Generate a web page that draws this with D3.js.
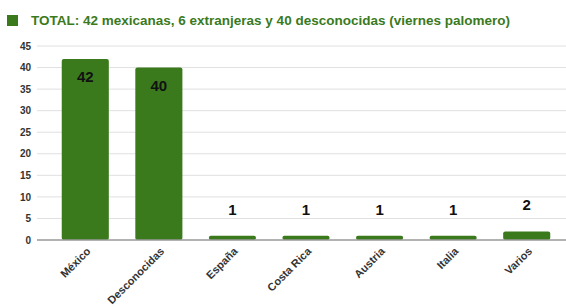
<!DOCTYPE html>
<html>
<head>
<meta charset="utf-8">
<script src="https://cdn.jsdelivr.net/npm/d3@7"></script>
<style>
  body { margin: 0; background: #fff; }
  svg { display: block; font-family: "Liberation Sans", Arial, sans-serif; }
</style>
</head>
<body>
<svg id="chart"></svg>
<script>
const categories = ["México", "Desconocidas", "España", "Costa Rica", "Austria", "Italia", "Varios"];
const values = [42, 40, 1, 1, 1, 1, 2];
const yTicks = [0, 5, 10, 15, 20, 25, 30, 35, 40, 45];
const title = "TOTAL: 42 mexicanas, 6 extranjeras y 40 desconocidas (viernes palomero)";

const width = 566, height = 307;
const green = "#3a7a1d";
const svg = d3.select("#chart").attr("width", width).attr("height", height);

const x = d3.scaleBand()
    .domain(categories)
    .range([48.5, 563.5])
    .paddingInner(0.36)
    .paddingOuter(0.18);
const y = d3.scaleLinear()
    .domain([0, 45])
    .range([240, 46]);

// legend / title
svg.append("rect")
    .attr("x", 7).attr("y", 15)
    .attr("width", 11).attr("height", 11)
    .attr("fill", green);
svg.append("text")
    .attr("x", 31).attr("y", 25)
    .attr("font-size", 13.5)
    .attr("font-weight", "bold")
    .attr("fill", green)
    .text(title);

// grid
svg.append("g")
    .selectAll("line")
    .data(yTicks.filter(d => d > 0))
    .enter()
    .append("line")
    .attr("x1", 37).attr("x2", width)
    .attr("y1", d => y(d)).attr("y2", d => y(d))
    .attr("stroke", "#e0e0e0")
    .attr("stroke-width", 1);

// y axis labels
const yAxis = svg.append("g")
    .attr("transform", "translate(31,0)")
    .call(d3.axisLeft(y).tickValues(yTicks).tickSize(0).tickPadding(0));
yAxis.select(".domain").remove();
yAxis.selectAll("text")
    .attr("font-size", 10)
    .attr("font-weight", "bold")
    .attr("fill", "#333")
    .attr("font-family", "Liberation Sans, Arial, sans-serif");

// bars
svg.append("g")
    .selectAll("rect")
    .data(categories)
    .enter()
    .append("rect")
    .attr("x", d => x(d))
    .attr("y", (d, i) => y(values[i]))
    .attr("width", x.bandwidth())
    .attr("height", (d, i) => y(0) - y(values[i]))
    .attr("rx", 2)
    .attr("fill", green);

// baseline
svg.append("line")
    .attr("x1", 37).attr("x2", width)
    .attr("y1", y(0)).attr("y2", y(0))
    .attr("stroke", "#999")
    .attr("stroke-width", 1.5);

// value labels
svg.append("g")
    .selectAll("text")
    .data(categories)
    .enter()
    .append("text")
    .attr("x", d => x(d) + x.bandwidth() / 2)
    .attr("y", (d, i) => values[i] > 10 ? y(values[i]) + 23 : y(values[i]) - 21)
    .attr("text-anchor", "middle")
    .attr("font-size", 15)
    .attr("font-weight", "bold")
    .attr("fill", "#111")
    .text((d, i) => values[i]);

// x labels
const xAxis = svg.append("g")
    .attr("transform", `translate(0,${y(0)})`)
    .call(d3.axisBottom(x).tickSize(0).tickPadding(0));
xAxis.select(".domain").remove();
xAxis.selectAll("text")
    .attr("font-size", 11)
    .attr("font-weight", "bold")
    .attr("fill", "#333")
    .attr("font-family", "Liberation Sans, Arial, sans-serif")
    .attr("text-anchor", "end")
    .attr("dy", null)
    .attr("transform", "translate(6,12) rotate(-45)");
</script>
</body>
</html>
